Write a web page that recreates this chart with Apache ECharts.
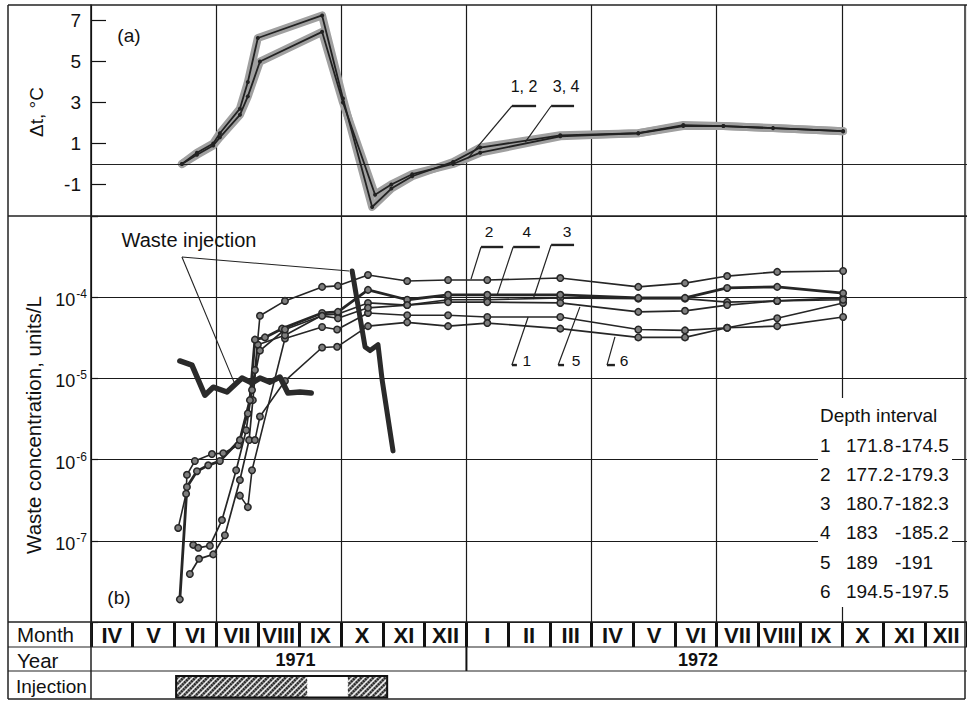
<!DOCTYPE html>
<html><head><meta charset="utf-8">
<script src="https://cdn.jsdelivr.net/npm/echarts@6/dist/echarts.min.js"></script>
<style>html,body{margin:0;padding:0;background:#fff}#c{width:967px;height:703px}</style>
</head><body><div id="c"></div>
<script>
// ---------- DATA ----------
const months = ['IV','V','VI','VII','VIII','IX','X','XI','XII','I','II','III','IV','V','VI','VII','VIII','IX','X','XI','XII'];
const years = ['1971','1972'];
const yearStart = [0, 9];          // month index where the year starts (0 = April 1971)
const yearLabelAt = [4.9, 14.55];  // month index of the year label
const injectionBox = [2.04, 7.10];
const injectionHatched = [[2.04, 5.18], [6.16, 7.10]];

const dtTicks = [-1, 1, 3, 5, 7];
// (a) temperature change, [month index, delta t]
const dt12 = [[2.18,0],[2.54,0.55],[2.93,1.0],[3.09,1.5],[3.57,2.7],[3.76,4.0],[4.0,6.15],[5.54,7.25],[6.04,3.2],[6.74,-2.1],[7.2,-1.2],[7.70,-0.6],[8.68,0.1],[9.33,0.8],[11.25,1.4],[13.12,1.5],[14.2,1.85],[15.16,1.85],[16.35,1.75],[18.03,1.6]];
const dt34 = [[2.18,0],[2.54,0.45],[2.93,0.9],[3.09,1.3],[3.57,2.4],[3.76,3.3],[4.05,5.0],[5.54,6.45],[6.04,3.0],[6.81,-1.5],[7.2,-1.0],[7.70,-0.5],[8.68,0.0],[9.33,0.55],[11.25,1.35],[13.12,1.5],[14.2,1.9],[15.16,1.85],[16.35,1.75],[18.03,1.6]];

// (b) waste concentration, [month index, units/L]
const conc1 = [[3.57,3.6e-7],[3.76,2.6e-7],[3.86,7.4e-7],[4.65,3.1e-5],[5.54,4.3e-5],[5.90,4.0e-5],[6.64,6.4e-5],[7.58,6.0e-5],[8.56,6.0e-5],[9.50,5.7e-5],[11.25,5.7e-5],[13.12,4.0e-5],[14.24,3.9e-5],[15.25,4.2e-5],[16.45,5.5e-5],[18.03,8.5e-5]];
const conc2 = [[2.09,1.44e-7],[2.28,3.8e-7],[2.30,6.5e-7],[2.49,9.6e-7],[2.90,1.17e-6],[3.17,1.2e-6],[3.53,1.5e-6],[3.76,3.7e-6],[3.93,1.27e-5],[4.05,5.9e-5],[4.65,9.0e-5],[5.54,1.34e-4],[5.92,1.38e-4],[6.64,1.88e-4],[7.58,1.58e-4],[8.56,1.63e-4],[9.50,1.63e-4],[11.25,1.72e-4],[13.12,1.34e-4],[14.24,1.49e-4],[15.25,1.82e-4],[16.45,2.05e-4],[18.03,2.1e-4]];
const conc3 = [[2.37,3.9e-8],[2.59,6.0e-8],[2.93,6.8e-8],[3.21,1.17e-7],[3.57,5.6e-7],[3.79,1.74e-6],[3.88,5.4e-6],[4.0,2.6e-5],[4.65,3.4e-5],[5.54,6.0e-5],[5.92,6.2e-5],[6.64,8.5e-5],[7.58,8.0e-5],[8.56,9.3e-5],[9.50,9.3e-5],[11.25,9.8e-5],[13.12,9.6e-5],[14.24,9.6e-5],[15.25,8.7e-5],[16.45,9.0e-5],[18.03,9.8e-5]];
const conc4 = [[2.13,1.9e-8],[2.30,4.6e-7],[2.54,7.2e-7],[2.81,8.5e-7],[3.09,9.6e-7],[3.57,1.74e-6],[3.81,5.4e-6],[3.93,3.0e-5],[4.17,3.2e-5],[4.58,4.1e-5],[5.54,6.4e-5],[5.92,6.6e-5],[6.64,1.23e-4],[7.58,9.3e-5],[8.56,1.07e-4],[9.50,1.07e-4],[11.25,1.07e-4],[13.12,9.8e-5],[14.24,9.8e-5],[15.25,1.3e-4],[16.45,1.34e-4],[18.03,1.12e-4]];
const conc5 = [[2.45,8.9e-8],[2.57,8.2e-8],[2.85,8.7e-8],[3.14,1.8e-7],[3.48,7.4e-7],[3.72,2.3e-6],[3.86,7.2e-6],[4.05,2.2e-5],[4.65,4.0e-5],[5.54,5.9e-5],[5.92,5.5e-5],[6.64,7.4e-5],[7.58,8.0e-5],[8.56,8.7e-5],[9.50,8.7e-5],[11.25,8.5e-5],[13.12,6.6e-5],[14.24,6.8e-5],[15.25,8.0e-5],[16.45,9.0e-5],[18.03,9.3e-5]];
const conc6 = [[3.93,1.74e-6],[4.05,3.4e-6],[4.65,9.3e-6],[5.54,2.4e-5],[5.90,2.45e-5],[6.64,4.4e-5],[7.58,4.9e-5],[8.56,4.4e-5],[9.50,4.8e-5],[11.25,4.1e-5],[13.12,3.2e-5],[14.24,3.2e-5],[15.25,4.2e-5],[16.45,4.4e-5],[18.03,5.7e-5]];
const wasteA = [[2.13,1.64e-5],[2.42,1.46e-5],[2.73,6.2e-6],[2.93,7.8e-6],[3.26,6.8e-6],[3.62,1.01e-5],[3.86,8.8e-6],[4.05,1.01e-5],[4.29,9.0e-6],[4.53,1.04e-5],[4.72,6.6e-6],[5.01,6.8e-6],[5.28,6.6e-6]];
const wasteB = [[6.26,2.1e-4],[6.57,2.44e-5],[6.69,2.2e-5],[6.88,2.6e-5],[6.98,9.5e-6],[7.24,1.28e-6]];

const depthNames = ['1','2','3','4','5','6'];
const depthFrom = ['171.8','177.2','180.7','183','189','194.5'];
const depthTo = ['174.5','179.3','182.3','185.2','191','197.5'];

// ---------- CHART ----------
const FF = "'Liberation Sans', Arial, Helvetica, sans-serif";
const INK = '#111';
const chart = echarts.init(document.getElementById('c'), null, {renderer: 'svg'});

function concSeries(name, data, width) {
  return {name, type: 'line', xAxisIndex: 1, yAxisIndex: 1, data, symbol: 'circle', symbolSize: 6.5, z: 4,
    itemStyle: {color: '#7e7e7e', borderColor: '#262626', borderWidth: 1.5},
    lineStyle: {color: '#262626', width: width}, silent: true};
}
function hatchLines(x0, y0, x1, y1, step, dir, stroke, lw) {
  const out = [], h = y1 - y0;
  for (let c = -h; c < x1 - x0; c += step) {
    let ax = x0 + c, bx = x0 + c + h, ay, by;
    if (dir > 0) { ay = y1; by = y0; } else { ay = y0; by = y1; }
    if (ax < x0) { const d = x0 - ax; ax = x0; ay += dir > 0 ? -d : d; }
    if (bx > x1) { const d = bx - x1; bx = x1; by += dir > 0 ? d : -d; }
    out.push({type: 'line', shape: {x1: ax, y1: ay, x2: bx, y2: by}, style: {stroke, lineWidth: lw}});
  }
  return out;
}
const gridBase = {left: 91, right: 0, outerBoundsMode: 'none', containLabel: false};
const hiddenVal = (g, max) => ({gridIndex: g, type: 'value', min: 0, max: max, show: false});

const option = {
  animation: false,
  backgroundColor: '#fff',
  grid: [
    Object.assign({top: 5, height: 211}, gridBase),
    Object.assign({top: 216, height: 406}, gridBase),
    Object.assign({top: 622, height: 25}, gridBase),
    Object.assign({top: 647, height: 24}, gridBase),
    Object.assign({top: 671, height: 28}, gridBase)
  ],
  xAxis: [
    {gridIndex: 0, type: 'value', min: 0, max: 21, interval: 3, axisLine: {show: false}, axisTick: {show: false}, axisLabel: {show: false}, splitLine: {show: true, lineStyle: {color: '#1a1a1a', width: 1.2}}},
    {gridIndex: 1, type: 'value', min: 0, max: 21, interval: 3, axisLine: {show: false}, axisTick: {show: false}, axisLabel: {show: false}, splitLine: {show: true, lineStyle: {color: '#1a1a1a', width: 1.2}}},
    {gridIndex: 2, type: 'category', data: months, boundaryGap: true, axisLine: {show: false}, axisTick: {show: false},
      axisLabel: {inside: true, margin: 12, verticalAlign: 'middle', interval: 0, fontFamily: FF, fontWeight: 'bold', fontSize: 22, color: '#111'},
      splitLine: {show: true, interval: 0, lineStyle: {color: '#111', width: 3}}},
    hiddenVal(3, 21),
    hiddenVal(4, 21)
  ],
  yAxis: [
    {gridIndex: 0, type: 'value', min: -2.54, max: 7.76,
      axisLine: {show: true, lineStyle: {color: '#111', width: 1.5}},
      axisTick: {show: true, inside: true, length: 15, customValues: dtTicks, lineStyle: {color: '#111', width: 1.2}},
      axisLabel: {customValues: dtTicks, margin: 10, fontFamily: FF, fontSize: 19, color: '#111'},
      splitLine: {show: false}},
    {gridIndex: 1, type: 'log', logBase: 10, min: 1e-8, max: 1e-3,
      axisLine: {show: true, lineStyle: {color: '#111', width: 1.5}},
      axisTick: {show: true, inside: true, length: 7, lineStyle: {color: '#111', width: 1.2}},
      axisLabel: {margin: 4, formatter: function (v) {
          const e = Math.round(Math.log10(v));
          if (e <= -8 || e >= -3) return '';
          return '{b|10}{s|' + e + '}';
        },
        rich: {b: {fontFamily: FF, fontSize: 18, color: '#111', padding: [6, 0, 0, 0]}, s: {fontFamily: FF, fontSize: 12, color: '#111', padding: [0, 0, 6, 1]}}},
      splitLine: {show: true, lineStyle: {color: '#1a1a1a', width: 1.2}},
      minorTick: {show: false}},
    {gridIndex: 2, type: 'value', show: false},
    hiddenVal(3, 1),
    hiddenVal(4, 1)
  ],
  series: [
    {name: 'halo12', type: 'line', xAxisIndex: 0, yAxisIndex: 0, data: dt12, showSymbol: false, z: 2, silent: true, lineStyle: {color: '#a0a0a0', width: 8, cap: 'round', join: 'round'}},
    {name: 'halo34', type: 'line', xAxisIndex: 0, yAxisIndex: 0, data: dt34, showSymbol: false, z: 2, silent: true, lineStyle: {color: '#a0a0a0', width: 8, cap: 'round', join: 'round'}},
    {name: '1, 2', type: 'line', xAxisIndex: 0, yAxisIndex: 0, data: dt12, symbol: 'circle', symbolSize: 4, z: 3, silent: true,
      itemStyle: {color: '#222'}, lineStyle: {color: '#222', width: 1.8},
      markLine: {silent: true, symbol: 'none', label: {show: false}, data: [{yAxis: 0}], lineStyle: {color: '#222', width: 1.2, type: 'solid'}}},
    {name: '3, 4', type: 'line', xAxisIndex: 0, yAxisIndex: 0, data: dt34, symbol: 'circle', symbolSize: 4, z: 3, silent: true,
      itemStyle: {color: '#222'}, lineStyle: {color: '#222', width: 1.8}},
    concSeries('1', conc1, 1.6),
    concSeries('2', conc2, 1.6),
    concSeries('3', conc3, 1.7),
    concSeries('4', conc4, 2.8),
    concSeries('5', conc5, 1.7),
    concSeries('6', conc6, 1.6),
    {name: 'Waste injection A', type: 'line', xAxisIndex: 1, yAxisIndex: 1, data: wasteA, showSymbol: false, z: 5, silent: true, lineStyle: {color: '#2a2a2a', width: 5.5, cap: 'round', join: 'round'}},
    {name: 'Waste injection B', type: 'line', xAxisIndex: 1, yAxisIndex: 1, data: wasteB, showSymbol: false, z: 5, silent: true, lineStyle: {color: '#2a2a2a', width: 5, cap: 'round', join: 'round'}},
    {name: 'Year', type: 'custom', xAxisIndex: 3, yAxisIndex: 3, silent: true,
      data: years.map((y, i) => [yearStart[i], 0.5, yearLabelAt[i]]),
      renderItem: function (params, api) {
        const i = params.dataIndex;
        const b = api.coord([api.value(0), 0]), t = api.coord([api.value(0), 1]);
        const lab = api.coord([api.value(2), 0.5]);
        const ch = [{type: 'text', x: lab[0], y: lab[1] + 1, style: {text: years[i], fontFamily: FF, fontSize: 18, fontWeight: 'bold', fill: INK, align: 'center', verticalAlign: 'middle'}}];
        if (api.value(0) > 0) ch.push({type: 'line', shape: {x1: b[0], y1: b[1], x2: t[0], y2: t[1]}, style: {stroke: INK, lineWidth: 2}});
        return {type: 'group', children: ch};
      }},
    {name: 'Injection', type: 'custom', xAxisIndex: 4, yAxisIndex: 4, silent: true,
      data: injectionHatched.map(p => [p[0], 0.5, p[1]]),
      renderItem: function (params, api) {
        const a = api.coord([api.value(0), 0.82]), b = api.coord([api.value(2), 0.05]);
        const ch = [{type: 'rect', shape: {x: a[0], y: a[1], width: b[0] - a[0], height: b[1] - a[1]}, style: {fill: '#6a6a6a'}}];
        return {type: 'group', children: ch.concat(
          hatchLines(a[0], a[1], b[0], b[1], 4, -1, '#222', 1.2),
          hatchLines(a[0], a[1], b[0], b[1], 6, 1, '#eeeeee', 1.6))};
      }},
    {name: 'InjectionBox', type: 'custom', xAxisIndex: 4, yAxisIndex: 4, silent: true, z: 6,
      data: [[injectionBox[0], 0.5, injectionBox[1]]],
      renderItem: function (params, api) {
        const a = api.coord([api.value(0), 0.82]), b = api.coord([api.value(2), 0.05]);
        return {type: 'rect', shape: {x: a[0], y: a[1], width: b[0] - a[0], height: b[1] - a[1]}, style: {fill: 'none', stroke: '#111', lineWidth: 2}};
      }}
  ]
};
chart.setOption(option);

// ---------- ANNOTATIONS ----------
const P = (g, pt) => chart.convertToPixel({xAxisIndex: g, yAxisIndex: g}, pt);
const G = [];
function ln(x1, y1, x2, y2, w, c) { G.push({type: 'line', z: 100, silent: true, shape: {x1, y1, x2, y2}, style: {stroke: c || '#222', lineWidth: w || 1.3}}); }
function tx(x, y, t, size, o) {
  o = o || {};
  G.push({type: 'text', z: 101, silent: true, x, y, rotation: o.rot || 0,
    style: {text: t, fontFamily: FF, fontSize: size, fontWeight: o.weight || 'normal', fill: INK, align: o.align || 'center', verticalAlign: 'middle'}});
}
// frame and table rules
ln(8, 5, 967, 5, 1.5); ln(8, 5, 8, 699, 1.5); ln(965, 5, 965, 699, 1.5); ln(8, 699, 965, 699, 1.5);
ln(8, 216, 967, 216, 1.5); ln(8, 622, 967, 622, 1.5); ln(8, 647, 967, 647, 1.2); ln(8, 671, 967, 671, 1.2);
ln(91, 622, 91, 699, 1.5);
// titles
tx(36, 112, 'Δt, °C', 19, {rot: Math.PI / 2});
tx(33, 425, 'Waste concentration, units/L', 20.5, {rot: Math.PI / 2});
tx(17, 634, 'Month', 20.5, {align: 'left'});
tx(17, 660, 'Year', 20.5, {align: 'left'});
tx(16, 686, 'Injection', 19, {align: 'left'});

// panel labels and leaders (data coordinates)
const annot = [
  {g: 0, text: '(a)', at: [0.91, 6.29], size: 19},
  {g: 1, text: '(b)', at: [0.67, 1.98e-8], size: 19},
  {g: 0, text: '1, 2', at: [10.38, 3.76], size: 16, bar: [[10.67, 2.83], [10.09, 2.83]], diag: [[10.09, 2.83], [9.04, 0.29]]},
  {g: 0, text: '3, 4', at: [11.39, 3.76], size: 16, bar: [[11.58, 2.83], [11.03, 2.83]], diag: [[11.03, 2.83], [10.41, 1.07]]},
  {g: 1, text: 'Waste injection', at: [2.35, 5.06e-4], size: 20},
  {g: 1, text: '2', at: [9.54, 6.5e-4], size: 15.5, bar: [[9.88, 4.15e-4], [9.35, 4.15e-4]], diag: [[9.35, 4.15e-4], [9.11, 1.67e-4]]},
  {g: 1, text: '4', at: [10.45, 6.5e-4], size: 15.5, bar: [[10.76, 4.15e-4], [10.12, 4.15e-4]], diag: [[10.12, 4.15e-4], [9.73, 1.04e-4]]},
  {g: 1, text: '3', at: [11.41, 6.5e-4], size: 15.5, bar: [[11.58, 4.4e-4], [11.03, 4.4e-4]], diag: [[11.03, 4.4e-4], [10.6, 9.5e-5]]},
  {g: 1, text: '1', at: [10.45, 1.64e-5], size: 15.5, bar: [[10.09, 1.46e-5], [10.21, 1.46e-5]], diag: [[10.48, 5.7e-5], [10.09, 1.46e-5]]},
  {g: 1, text: '5', at: [11.63, 1.64e-5], size: 15.5, bar: [[11.2, 1.46e-5], [11.34, 1.46e-5]], diag: [[11.72, 7.6e-5], [11.2, 1.46e-5]]},
  {g: 1, text: '6', at: [12.78, 1.64e-5], size: 15.5, bar: [[12.37, 1.46e-5], [12.56, 1.46e-5]], diag: [[12.56, 3.24e-5], [12.37, 1.46e-5]]}
];
annot.forEach(a => {
  const p = P(a.g, a.at);
  tx(p[0], p[1], a.text, a.size);
  if (a.bar) { const b0 = P(a.g, a.bar[0]), b1 = P(a.g, a.bar[1]); ln(b0[0], b0[1], b1[0], b1[1], 2.4, '#222'); }
  if (a.diag) { const d0 = P(a.g, a.diag[0]), d1 = P(a.g, a.diag[1]); ln(d0[0], d0[1], d1[0], d1[1], 1.2, '#222'); }
});
// waste injection leader (V shape)
{
  const apex = P(1, [2.18, 3.13e-4]), l1 = P(1, [3.43, 9.0e-6]), l2 = P(1, [6.19, 2.1e-4]);
  ln(apex[0], apex[1], l1[0], l1[1], 1.1); ln(apex[0], apex[1], l2[0], l2[1], 1.1);
}
// depth interval legend
G.push({type: 'rect', z: 99, silent: true, shape: {x: 818, y: 398, width: 134, height: 209}, style: {fill: '#fff'}});
tx(820, 415, 'Depth interval', 19, {align: 'left'});
depthNames.forEach((n, i) => {
  const y = 445 + 29.3 * i;
  tx(820, y, n, 19, {align: 'left'});
  tx(846, y, depthFrom[i], 19, {align: 'left'});
  tx(895, y, '-' + depthTo[i], 19, {align: 'left'});
});
chart.setOption({graphic: {elements: G}});
</script>
</body></html>
